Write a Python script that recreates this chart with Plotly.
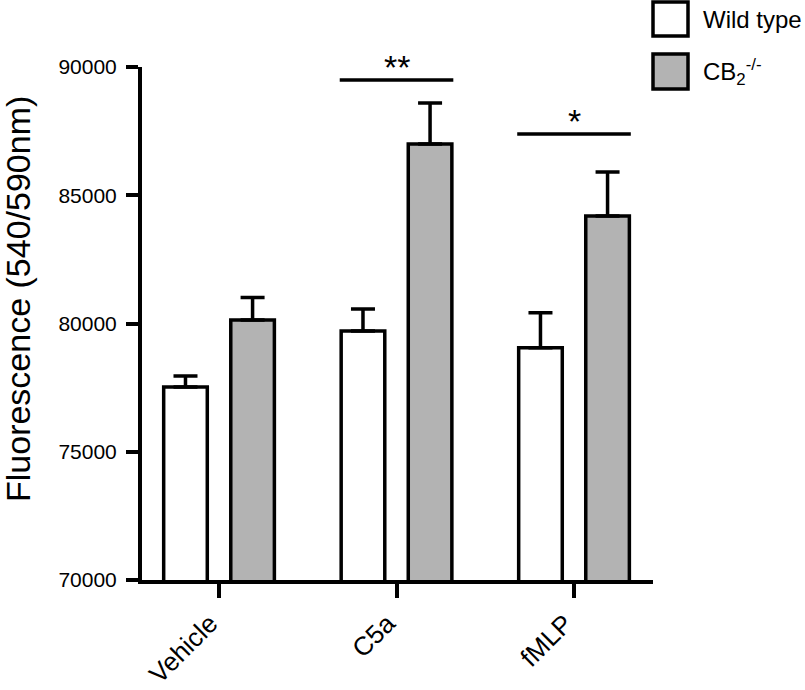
import plotly.graph_objects as go

# ---- data ----
categories = ["Vehicle", "C5a", "fMLP"]
wild_type = [77520, 79710, 79050]
wild_type_err = [430, 860, 1370]
cb2_ko = [80140, 87000, 84190]
cb2_ko_err = [870, 1600, 1715]
sig_index = [1, 2]
sig_level = [89490, 87390]
sig_text = ["**", "*"]
y_ticks = [70000, 75000, 80000, 85000, 90000]

FONT = "Arial, Liberation Sans, Helvetica, sans-serif"
W, H = 805, 690
ML, MT = 142, 67
PLOT_RIGHT, PLOT_BOTTOM = 653, 580
MR, MB = W - PLOT_RIGHT, H - PLOT_BOTTOM
PW, PH = W - ML - MR, H - MT - MB


def pp(xpix, ypix):
    """pixel -> paper coords (for decorations only)"""
    return (xpix - ML) / PW, (H - MB - ypix) / PH


fig = go.Figure()
fig.add_trace(go.Bar(
    x=categories, y=wild_type, name="Wild type",
    marker=dict(color="white", line=dict(color="black", width=3.5)),
    error_y=dict(type="data", symmetric=False, array=wild_type_err,
                 arrayminus=[0] * len(wild_type_err),
                 color="black", thickness=3.5, width=12),
    showlegend=False,
))
fig.add_trace(go.Bar(
    x=categories, y=cb2_ko, name="CB2-/-",
    marker=dict(color="#b3b3b3", line=dict(color="black", width=3.5)),
    error_y=dict(type="data", symmetric=False, array=cb2_ko_err,
                 arrayminus=[0] * len(cb2_ko_err),
                 color="black", thickness=3.5, width=12),
    showlegend=False,
))

shapes = []
annotations = []
for i, lvl, txt in zip(sig_index, sig_level, sig_text):
    shapes.append(dict(type="line", xref="x", yref="y", x0=i - 0.32, x1=i + 0.32,
                       y0=lvl, y1=lvl, line=dict(color="black", width=3.5)))
    annotations.append(dict(xref="x", yref="y", x=i, y=lvl, text=txt, showarrow=False,
                            yanchor="bottom", yshift=-8,
                            font=dict(family=FONT, size=34, color="black")))

# legend drawn manually (large boxes)
for (y0p, y1p, fill, label) in [(2, 36, "white", "Wild type"),
                                  (54, 89, "#b3b3b3", "CB<sub>2</sub><sup>-/-</sup>")]:
    x0, ya = pp(653, y1p)
    x1, yb = pp(688, y0p)
    shapes.append(dict(type="rect", xref="paper", yref="paper", x0=x0, x1=x1, y0=ya, y1=yb,
                       fillcolor=fill, line=dict(color="black", width=3.5)))
    tx, ty = pp(701, (y0p + y1p) / 2)
    annotations.append(dict(xref="paper", yref="paper", x=tx, y=ty, text=label,
                            showarrow=False, xanchor="left", yanchor="middle",
                            font=dict(family=FONT, size=24, color="black")))

# y-axis title
tx, ty = pp(18, 299)
annotations.append(dict(xref="paper", yref="paper", x=tx, y=ty,
                        text="Fluorescence (540/590nm)", textangle=-90, showarrow=False,
                        xanchor="center", yanchor="middle",
                        font=dict(family=FONT, size=34, color="black")))

fig.update_layout(
    width=W, height=H,
    margin=dict(l=ML, r=MR, t=MT, b=MB),
    paper_bgcolor="white", plot_bgcolor="white",
    barmode="group", bargap=0.244, bargroupgap=0.35,
    font=dict(family=FONT, color="black"),
    shapes=shapes, annotations=annotations,
    xaxis=dict(type="category", range=[-0.434, 2.445], showline=True, linewidth=4,
               linecolor="black", ticks="outside", ticklen=14, tickwidth=3.5,
               tickcolor="black", tickangle=-45, showgrid=False, zeroline=False,
               ticklabelshift=-9, automargin=False,
               tickfont=dict(family=FONT, size=26, color="black")),
    yaxis=dict(range=[70000, 90000], tickvals=y_ticks, ticktext=[str(v) for v in y_ticks],
               showline=True, linewidth=4, linecolor="black", ticks="outside",
               ticklen=12, tickwidth=4, tickcolor="black", showgrid=False, zeroline=False,
               ticklabelstandoff=5, automargin=False,
               tickfont=dict(family=FONT, size=21, color="black")),
)

fig.write_html("out.html", config={"displayModeBar": False},
               post_script="document.body.style.margin='0';")
